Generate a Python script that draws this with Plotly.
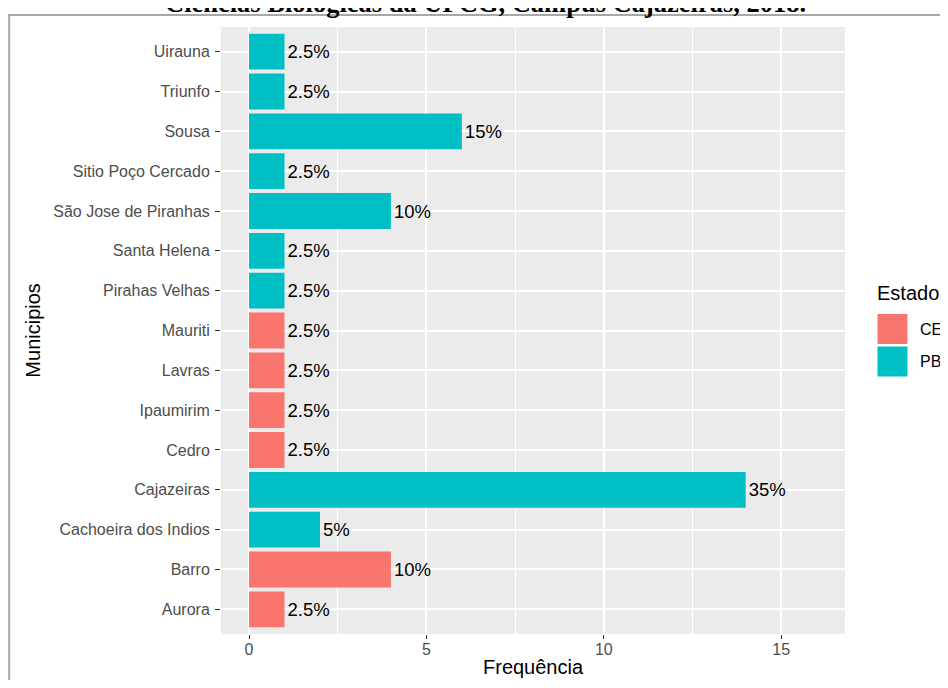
import plotly.graph_objects as go

# municipalities, bottom to top as drawn
municipios = [
    "Aurora", "Barro", "Cachoeira dos Indios", "Cajazeiras", "Cedro",
    "Ipaumirim", "Lavras", "Mauriti", "Pirahas Velhas", "Santa Helena",
    "São Jose de Piranhas", "Sitio Poço Cercado", "Sousa", "Triunfo", "Uirauna",
]
estado = ["CE", "CE", "PB", "PB", "CE", "CE", "CE", "CE", "PB", "PB",
          "PB", "PB", "PB", "PB", "PB"]
frequencia = [1, 4, 2, 14, 1, 1, 1, 1, 1, 1, 4, 1, 6, 1, 1]

cores = {"CE": "#F8766D", "PB": "#00BFC4"}
x_ticks = [0, 5, 10, 15]

total = sum(frequencia)
rotulos = [f"{f / total * 100:g}%" for f in frequencia]

# the page body adds an 8px margin; keep the page height inside the window
# so no scrollbar appears
OFF = 8
W, H = 948 - OFF, 688 - 2 * OFF
L, T = 221 - OFF, 27 - OFF
R, B = W - (845.5 - OFF), H - (634 - OFF)
pw, ph = W - L - R, H - T - B

SANS = "Liberation Sans, Arial, sans-serif"


def px_x(px):
    # page pixel -> paper x
    return (px - OFF - L) / pw


def px_y(py):
    # page pixel -> paper y
    return (H - B - (py - OFF)) / ph


fig = go.Figure()
for uf in ["CE", "PB"]:
    idx = [i for i, e in enumerate(estado) if e == uf]
    fig.add_trace(
        go.Bar(
            y=[municipios[i] for i in idx],
            x=[frequencia[i] for i in idx],
            text=[rotulos[i] for i in idx],
            orientation="h",
            width=0.9,
            name=uf,
            marker=dict(color=cores[uf], line=dict(width=0)),
            textposition="outside",
            textfont=dict(family=SANS, size=18.5, color="black"),
            cliponaxis=False,
            constraintext="none",
            showlegend=False,
        )
    )

axis_common = dict(
    ticks="outside",
    tickwidth=1.2,
    tickcolor="#333333",
    tickfont=dict(size=16, color="#4D4D4D"),
    showgrid=True,
    gridcolor="white",
    gridwidth=2,
    zeroline=False,
    showline=False,
    automargin=False,
)

fig.update_layout(
    width=W,
    height=H,
    margin=dict(l=L, r=R, t=T, b=B, pad=0),
    paper_bgcolor="white",
    plot_bgcolor="#EBEBEB",
    barmode="overlay",
    font=dict(family=SANS, color="#4D4D4D"),
    xaxis=dict(
        range=[-0.79, 16.8],
        tickvals=x_ticks,
        ticklen=4,
        ticklabelstandoff=-3,
        minor=dict(dtick=2.5, tick0=0, showgrid=True, gridcolor="white", gridwidth=1, ticks=""),
        **axis_common,
    ),
    yaxis=dict(
        type="category",
        categoryorder="array",
        categoryarray=municipios,
        range=[-0.62, len(municipios) - 0.38],
        ticklen=5,
        ticklabelstandoff=2,
        **axis_common,
    ),
)

# axis titles
fig.add_annotation(
    text="Frequência", xref="paper", yref="paper", x=0.5, y=px_y(680),
    xanchor="center", yanchor="bottom", showarrow=False,
    font=dict(size=20, color="black"),
)
fig.add_annotation(
    text="Municipios", xref="paper", yref="paper", x=px_x(32), y=0.5,
    xanchor="center", yanchor="middle", showarrow=False, textangle=-90,
    font=dict(size=20, color="black"),
)

# frame around the figure, as in the source document (runs off right and bottom)
fig.add_shape(
    type="rect", xref="paper", yref="paper",
    x0=px_x(9), x1=px_x(OFF + W + 2), y0=px_y(OFF + H + 2), y1=px_y(15),
    line=dict(color="#A8A8A8", width=2), fillcolor="rgba(0,0,0,0)", layer="above",
)

# document title, cut off at the top
fig.add_annotation(
    text="<b>Ciências Biológicas da UFCG, Campus Cajazeiras, 2018.</b>",
    xref="paper", yref="paper", x=px_x(486), y=px_y(19.5),
    xanchor="center", yanchor="bottom", showarrow=False,
    font=dict(family="Liberation Serif, Times New Roman, serif", size=26.5, color="black"),
)

# legend drawn ggplot-style
fig.add_annotation(
    text="Estado", xref="paper", yref="paper", x=px_x(876), y=px_y(293),
    xanchor="left", yanchor="middle", showarrow=False,
    font=dict(size=20, color="black"),
)
for k, uf in enumerate(["CE", "PB"]):
    top = 314 + k * 32.5
    fig.add_shape(
        type="rect", xref="paper", yref="paper",
        x0=px_x(878), x1=px_x(908), y0=px_y(top + 30), y1=px_y(top),
        fillcolor=cores[uf], line=dict(width=0),
    )
    fig.add_annotation(
        text=uf, xref="paper", yref="paper", x=px_x(919), y=px_y(top + 15),
        xanchor="left", yanchor="middle", showarrow=False,
        font=dict(size=16, color="black"),
    )

fig.write_html("out.html")
